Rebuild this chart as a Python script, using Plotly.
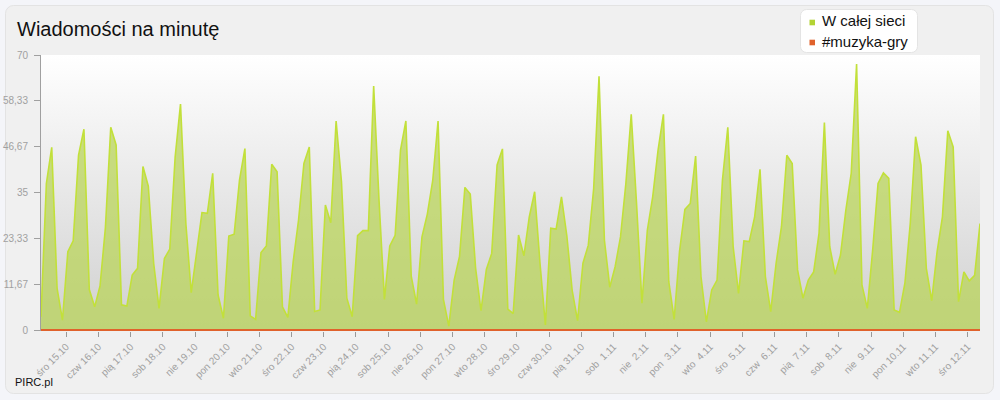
import base64
import plotly.graph_objects as go

# ---- data (4-hour samples) ----
w_calej_sieci = [
    3.4, 37.3, 46.5, 10.6, 2.5, 19.9, 22.7, 44.5, 51.1, 10.3,
    5.9, 11.2, 26.0, 51.6, 47.1, 6.4, 6.1, 14.0, 15.7, 41.6,
    36.6, 17.0, 5.5, 18.2, 20.6, 44.0, 57.5, 27.1, 9.5, 19.5,
    29.9, 29.7, 39.9, 8.9, 3.0, 23.9, 24.4, 38.2, 46.2, 3.6,
    2.7, 19.7, 21.4, 42.2, 40.3, 5.9, 3.2, 17.4, 28.0, 42.4,
    46.6, 4.7, 5.1, 31.8, 27.3, 53.2, 37.7, 8.1, 3.4, 24.0,
    25.3, 25.3, 62.1, 33.0, 7.8, 21.4, 24.1, 45.8, 53.2, 13.7,
    6.6, 23.7, 29.5, 38.0, 53.2, 7.8, 1.0, 12.7, 18.7, 36.3,
    34.6, 15.7, 4.9, 15.4, 19.5, 42.0, 46.1, 5.3, 4.2, 24.2,
    18.9, 28.8, 35.2, 17.0, 1.3, 25.9, 25.7, 33.9, 24.0, 10.0,
    2.4, 17.0, 21.6, 36.0, 64.6, 22.9, 10.9, 16.1, 23.7, 37.3,
    54.9, 32.0, 6.8, 25.4, 33.9, 45.8, 54.9, 12.3, 2.7, 20.0,
    30.7, 32.2, 44.3, 13.6, 2.1, 10.2, 12.7, 38.2, 51.6, 21.2,
    9.3, 22.7, 22.5, 28.8, 40.9, 13.6, 4.7, 17.0, 26.3, 44.5,
    42.4, 15.3, 8.1, 12.7, 14.8, 24.6, 52.8, 21.2, 14.2, 19.1,
    30.5, 39.9, 67.7, 11.5, 5.5, 20.4, 37.3, 40.0, 38.6, 5.1,
    4.5, 11.9, 27.1, 49.2, 42.0, 15.7, 7.5, 19.9, 28.8, 50.7,
    46.6, 7.2, 14.8, 12.5, 13.9, 27.1,
]
muzyka_gry = [0] * len(w_calej_sieci)  # every reading sits on the zero line

series_names = ["W całej sieci", "#muzyka-gry"]
series_colors = ["#b3d334", "#e0622c"]

day_labels = [
    "śro 15.10", "czw 16.10", "pią 17.10", "sob 18.10", "nie 19.10",
    "pon 20.10", "wto 21.10", "śro 22.10", "czw 23.10", "pią 24.10",
    "sob 25.10", "nie 26.10", "pon 27.10", "wto 28.10", "śro 29.10",
    "czw 30.10", "pią 31.10", "sob\u00a0\u00a01.11", "nie\u00a0\u00a02.11",
    "pon\u00a0\u00a03.11", "wto\u00a0\u00a04.11", "śro\u00a0\u00a05.11",
    "czw\u00a0\u00a06.11", "pią\u00a0\u00a07.11", "sob\u00a0\u00a08.11",
    "nie\u00a0\u00a09.11", "pon 10.11", "wto 11.11", "śro 12.11",
]
y_tick_vals = [0, 11.67, 23.33, 35, 46.67, 58.33, 70]
y_tick_text = ["0", "11,67", "23,33", "35", "46,67", "58,33", "70"]

# ---- layout geometry ----
W, H = 1000, 400
ML, MR, MT, MB = 41, 20, 55, 69
PW, PH = W - ML - MR, H - MT - MB


def px(xp):
    return (xp - ML) / PW


def py(yp):
    return (MT + PH - yp) / PH


x = list(range(len(w_calej_sieci)))
samples_per_day = 6
first_tick = 4.7
tick_vals = [first_tick + samples_per_day * k for k in range(len(day_labels))]

FONT = "Liberation Sans, Arial, sans-serif"
OUTER = "#f4f5f9"

svg = f"""<svg xmlns="http://www.w3.org/2000/svg" width="{W}" height="{H}" viewBox="0 0 {W} {H}" preserveAspectRatio="none">
<defs><linearGradient id="g" x1="0" y1="0" x2="0" y2="1">
<stop offset="0" stop-color="#ffffff"/><stop offset="1" stop-color="#d0d0d0"/></linearGradient></defs>
<rect width="{W}" height="{H}" fill="{OUTER}"/>
<rect x="5.5" y="5.5" width="988" height="388" rx="8" ry="8" fill="#f0f0f0" stroke="#e3e3e3"/>
<rect x="{ML}" y="{MT}" width="{PW}" height="{PH}" fill="url(#g)"/>
<rect x="800.5" y="9.5" width="117" height="43" rx="6" ry="6" fill="#ffffff" stroke="#e4e4e4"/>
</svg>"""
bg_src = "data:image/svg+xml;base64," + base64.b64encode(svg.encode()).decode()

fig = go.Figure()
fig.add_trace(go.Scatter(
    x=x, y=w_calej_sieci, mode="lines", name=series_names[0],
    line=dict(color="#c2e03a", width=1.6),
    fill="tozeroy", fillcolor="rgba(185,212,85,0.72)",
    showlegend=False, hoverinfo="skip",
))
fig.add_trace(go.Scatter(
    x=x, y=muzyka_gry, mode="lines", name=series_names[1],
    line=dict(color=series_colors[1], width=2),
    showlegend=False, hoverinfo="skip",
))

# legend drawn as swatches + real text
legend_rows_y = [21, 41]
shapes = []
annotations = []
for name, color, yc in zip(series_names, series_colors, legend_rows_y):
    sy = yc + 1.5
    shapes.append(dict(type="rect", xref="paper", yref="paper",
                       x0=px(809.5), x1=px(815), y0=py(sy - 2.8), y1=py(sy + 2.8),
                       fillcolor=color, line=dict(width=0)))
    annotations.append(dict(text=name, xref="paper", yref="paper",
                            x=px(820), y=py(yc), xanchor="left", yanchor="middle",
                            showarrow=False,
                            font=dict(family=FONT, size=15, color="#111111")))
annotations.append(dict(text="PIRC.pl", xref="paper", yref="paper",
                        x=px(13), y=py(382), xanchor="left", yanchor="middle",
                        showarrow=False,
                        font=dict(family=FONT, size=11, color="#111111")))

fig.update_layout(
    width=W, height=H,
    margin=dict(l=ML, r=MR, t=MT, b=MB, pad=0, autoexpand=False),
    paper_bgcolor=OUTER,
    plot_bgcolor="rgba(0,0,0,0)",
    font=dict(family=FONT, color="#999999", size=10),
    title=dict(text="Wiadomości na minutę", x=0.017, xanchor="left",
               y=1 - 29 / H, yanchor="middle",
               font=dict(family=FONT, size=20, color="#111111")),
    showlegend=False,
    hovermode=False,
    images=[dict(source=bg_src, xref="paper", yref="paper",
                 x=-ML / PW, y=1 + MT / PH, sizex=W / PW, sizey=H / PH,
                 xanchor="left", yanchor="top", sizing="stretch", layer="below")],
    shapes=shapes,
    annotations=annotations,
)
fig.update_xaxes(
    range=[0, len(w_calej_sieci) - 1], showgrid=False, zeroline=False, showline=False,
    automargin=False,
    tickmode="array", tickvals=tick_vals, ticktext=day_labels, tickangle=-45,
    ticks="outside", ticklen=5, tickcolor="#999999", tickwidth=1,
    tickfont=dict(family=FONT, size=10, color="#a0a0a0"),
)
fig.update_yaxes(
    range=[-0.25, 70], showgrid=False, zeroline=False, automargin=False,
    showline=True, linecolor="#a0a0a0", linewidth=1,
    tickmode="array", tickvals=y_tick_vals, ticktext=y_tick_text,
    ticks="outside", ticklen=6, tickcolor="#a0a0a0", tickwidth=1,
    ticklabelstandoff=4,
    tickfont=dict(family=FONT, size=10, color="#a0a0a0"),
)

fig.write_html(
    "out.html",
    config={"displayModeBar": False, "staticPlot": True},
    post_script=f"document.body.style.margin='0';document.body.style.background='{OUTER}';",
)
